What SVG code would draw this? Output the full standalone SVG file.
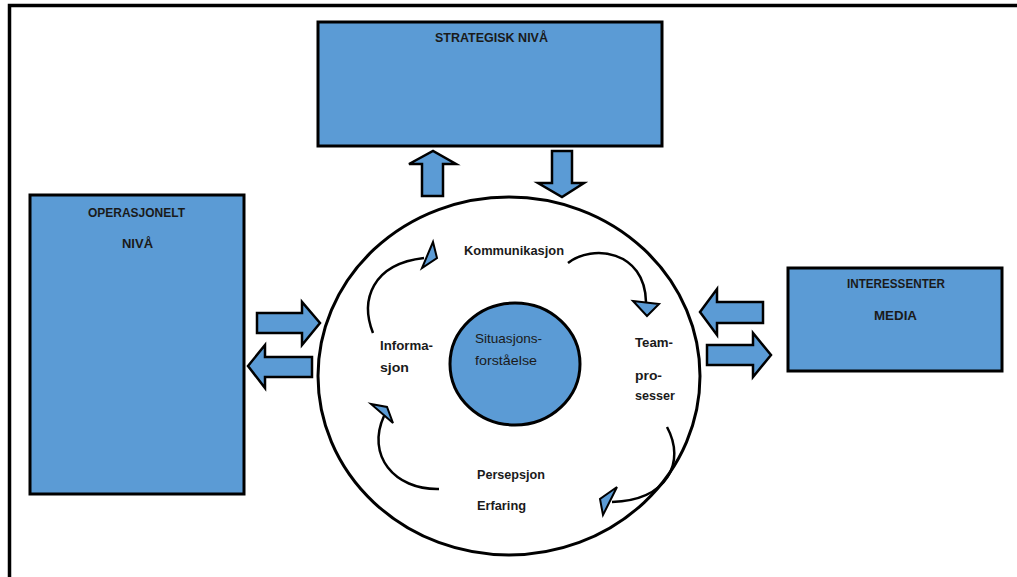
<svg xmlns="http://www.w3.org/2000/svg" width="1017" height="577" viewBox="0 0 1017 577">
  <style>
    .box { fill: #5B9BD5; stroke: #000; stroke-width: 3; }
    .blk { fill: #5B9BD5; stroke: #000; stroke-width: 2.5; stroke-linejoin: miter; }
    .ring { fill: #fff; stroke: #000; stroke-width: 3; }
    .core { fill: #5B9BD5; stroke: #000; stroke-width: 3; }
    .cyc { fill: none; stroke: #000; stroke-width: 2.5; }
    .head { fill: #5B9BD5; stroke: #000; stroke-width: 2; stroke-linejoin: miter; }
    .lbl { font-family: "Liberation Sans", Arial, sans-serif; font-size: 13px; font-weight: bold; fill: #1a1a1a; }
    .sit { font-family: "Liberation Sans", Arial, sans-serif; font-size: 13px; fill: #1a1a1a; }
  </style>

  <!-- page frame -->
  <path d="M9.5,577 V5.5 H1017" fill="none" stroke="#000" stroke-width="3.5"/>

  <g id="strategisk">
    <rect class="box" x="318" y="22" width="344" height="124"/>
    <text class="lbl" x="435" y="42" textLength="113" lengthAdjust="spacingAndGlyphs">STRATEGISK NIVÅ</text>
  </g>

  <g id="operasjonelt">
    <rect class="box" x="30" y="195" width="214" height="299"/>
    <text class="lbl" x="88" y="217" textLength="97" lengthAdjust="spacingAndGlyphs">OPERASJONELT</text>
    <text class="lbl" x="122" y="248" textLength="31" lengthAdjust="spacingAndGlyphs">NIVÅ</text>
  </g>

  <g id="interessenter">
    <rect class="box" x="788" y="268" width="214" height="103"/>
    <text class="lbl" x="847" y="288" textLength="98" lengthAdjust="spacingAndGlyphs">INTERESSENTER</text>
    <text class="lbl" x="874" y="320" textLength="43" lengthAdjust="spacingAndGlyphs">MEDIA</text>
  </g>

  <g id="prosess">
    <ellipse class="ring" cx="509" cy="376" rx="191" ry="179"/>
  </g>

  <g id="situasjonsforstaaelse">
    <ellipse class="core" cx="515" cy="364" rx="65" ry="61"/>
    <text class="sit" x="475" y="343" textLength="67" lengthAdjust="spacingAndGlyphs">Situasjons-</text>
    <text class="sit" x="475" y="365" textLength="62" lengthAdjust="spacingAndGlyphs">forståelse</text>
  </g>

  <g id="kommunikasjon">
    <text class="lbl" x="464" y="255" textLength="100" lengthAdjust="spacingAndGlyphs">Kommunikasjon</text>
  </g>
  <g id="teamprosesser">
    <text class="lbl" x="635" y="347" textLength="38" lengthAdjust="spacingAndGlyphs">Team-</text>
    <text class="lbl" x="635" y="380" textLength="27" lengthAdjust="spacingAndGlyphs">pro-</text>
    <text class="lbl" x="635" y="400" textLength="40" lengthAdjust="spacingAndGlyphs">sesser</text>
  </g>
  <g id="informasjon">
    <text class="lbl" x="380" y="350" textLength="53" lengthAdjust="spacingAndGlyphs">Informa-</text>
    <text class="lbl" x="380" y="372" textLength="29" lengthAdjust="spacingAndGlyphs">sjon</text>
  </g>
  <g id="persepsjon">
    <text class="lbl" x="477" y="479" textLength="68" lengthAdjust="spacingAndGlyphs">Persepsjon</text>
    <text class="lbl" x="477" y="510" textLength="49" lengthAdjust="spacingAndGlyphs">Erfaring</text>
  </g>

  <g id="connectors">
    <!-- block arrows between the levels -->
    <path class="blk" d="M422,196 V164 H409 L433,151 L456,164 H443 V196 Z"/>
    <path class="blk" d="M552,151 H572 V183 H584 L562,197 L538,183 H552 Z"/>
    <path class="blk" d="M257,313 H302 V302 L320,323 L302,345 V333 H257 Z"/>
    <path class="blk" d="M312,357 H265 V345 L248,366 L265,388 V377 H312 Z"/>
    <path class="blk" d="M763,302 H717 V289 L700,312 L717,335 V323 H763 Z"/>
    <path class="blk" d="M707,345 H753 V333 L771,355 L753,377 V365 H707 Z"/>

    <!-- cycle arrows inside the ring -->
    <path class="cyc" d="M373,333 C360,300 372,264 424,258"/>
    <path class="head" d="M433,242 L422,268 L437,258 Z"/>

    <path class="cyc" d="M568,263 C592,244 645,250 646,302"/>
    <path class="head" d="M633,301 L659,304 L647,316 Z"/>

    <path class="cyc" d="M667,427 C686,462 668,500 612,502"/>
    <path class="head" d="M617,487 L600,499 L603,515 Z"/>

    <path class="cyc" d="M439,489 C394,490 366,455 384,416"/>
    <path class="head" d="M371,404 L387,407 L393,423 Z"/>
  </g>
</svg>
